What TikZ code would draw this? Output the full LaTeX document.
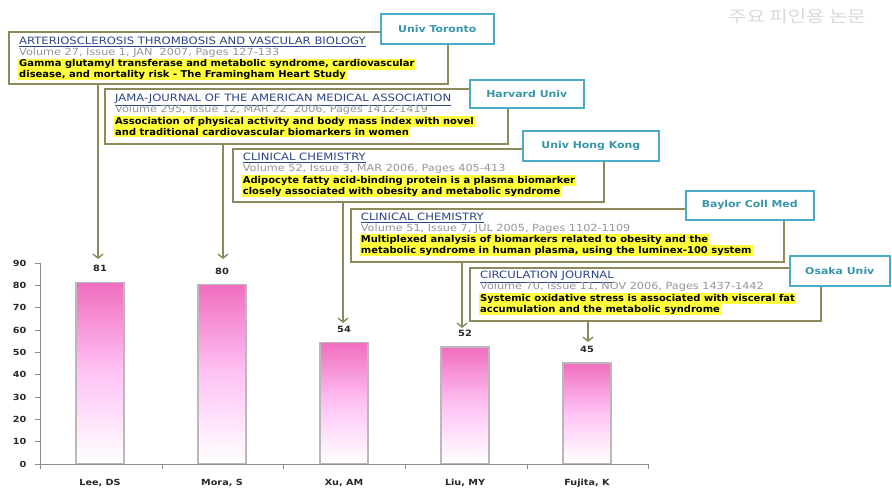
\documentclass[tikz,border=0pt]{standalone}
\usepackage{fontspec}
\setmainfont[FakeStretch=1.15]{DejaVu Sans}
\newfontfamily\hlfont[FakeStretch=1.06]{DejaVu Sans}
\newfontfamily\krfont[FakeStretch=1.25]{Noto Sans CJK KR}
\usetikzlibrary{arrows.meta,calc}
\definecolor{boxline}{RGB}{140,138,90}
\definecolor{labline}{RGB}{75,172,198}
\definecolor{labtext}{RGB}{55,150,170}
\definecolor{titleblue}{RGB}{45,70,135}
\definecolor{volgray}{RGB}{150,150,150}
\definecolor{hlyellow}{RGB}{255,255,60}
\definecolor{barTop}{RGB}{240,110,190}
\definecolor{barMid}{RGB}{255,195,245}
\definecolor{axisgray}{RGB}{140,140,140}
\definecolor{numtext}{RGB}{40,40,40}
\tikzset{
  artbox/.style={draw=boxline, line width=1.6pt, fill=white, anchor=north west, inner sep=0pt},
  labbox/.style={draw=labline, line width=1.6pt, fill=white, anchor=north west, inner sep=0pt,
    font=\bfseries\fontsize{9.5}{10}\selectfont, text=labtext},
  ttl/.style={anchor=base west, inner sep=0pt, text=titleblue, font=\fontsize{10.1}{11}\selectfont},
  vol/.style={anchor=base west, inner sep=0pt, text=volgray, font=\fontsize{9.8}{11}\selectfont},
  hl/.style={anchor=base west, inner xsep=1pt, inner ysep=0.9pt, fill=hlyellow, text=black,
    font=\hlfont\bfseries\fontsize{9.4}{10}\selectfont},
  arr/.style={draw=boxline, line width=1.6pt, -{Straight Barb[length=4pt,width=10pt,line width=1.4pt]}},
  bar/.style={anchor=south, minimum width=48pt, inner sep=0pt, draw=gray!55, line width=1.4pt,
    top color=barTop, bottom color=white, middle color=barMid},
  val/.style={inner sep=0pt, text=numtext, font=\bfseries\fontsize{8.6}{10}\selectfont},
  cat/.style={inner sep=0pt, text=numtext, font=\bfseries\fontsize{8.4}{10}\selectfont},
  ytl/.style={anchor=east, inner sep=0pt, text=numtext, font=\bfseries\fontsize{8.4}{10}\selectfont}
}
\begin{document}
\begin{tikzpicture}[x=1pt,y=-1pt]
\useasboundingbox (0,0) rectangle (892,489);
\fill[white] (0,0) rectangle (892,489);

% title (faint)
\node[inner sep=0pt, text=gray!30, font=\krfont\fontsize{16}{18}\selectfont] (ktitle) at (797,17) {주요 피인용 논문};

% ---- chart axes
\coordinate (o) at (40,464);
\coordinate (ytop) at (40,263);
\coordinate (xend) at (648,464);
\draw[axisgray, line width=0.8pt] (ytop) -- (o) -- (xend);
\foreach \k in {0,...,9} {
  \draw[axisgray, line width=0.8pt] (35,{464-\k*22.33}) -- (40,{464-\k*22.33});
  \node[ytl] (y\k) at (26.5,{464-\k*22.33}) {\the\numexpr\k*10\relax};
}
\foreach \xx in {40,162,283,405,527,648} {
  \draw[axisgray, line width=0.8pt] (\xx,464) -- (\xx,469);
}

% ---- bars
\node[bar, minimum height={81*2.233pt}] (bar1) at (100,464) {};
\node[bar, minimum height={80*2.233pt}] (bar2) at (222,464) {};
\node[bar, minimum height={54*2.233pt}] (bar3) at (344,464) {};
\node[bar, minimum height={52*2.233pt}] (bar4) at (465,464) {};
\node[bar, minimum height={45*2.233pt}] (bar5) at (587,464) {};

\node[val] (v1) at ($(bar1.north)+(0,-13)$) {81};
\node[val] (v2) at ($(bar2.north)+(0,-13)$) {80};
\node[val] (v3) at ($(bar3.north)+(0,-13)$) {54};
\node[val] (v4) at ($(bar4.north)+(0,-13)$) {52};
\node[val] (v5) at ($(bar5.north)+(0,-13)$) {45};

\node[cat] (c1) at (100,483) {Lee, DS};
\node[cat] (c2) at (222,483) {Mora, S};
\node[cat] (c3) at (344,483) {Xu, AM};
\node[cat] (c4) at (465,483) {Liu, MY};
\node[cat] (c5) at (587,483) {Fujita, K};

% ---- article boxes
\node[artbox, minimum width=439pt, minimum height=52pt] (b1) at (8,31.5) {};
\node[artbox, minimum width=403pt, minimum height=55pt] (b2) at (104,88.3) {};
\node[artbox, minimum width=371pt, minimum height=53pt] (b3) at (232,148) {};
\node[artbox, minimum width=433pt, minimum height=53pt] (b4) at (350,208) {};
\node[artbox, minimum width=351pt, minimum height=53pt] (b5) at (469,267) {};

% ---- arrows
\coordinate (t1) at (98,259);
\coordinate (t2) at (223,259);
\coordinate (t3) at (343,323);
\coordinate (t4) at (462,328);
\coordinate (t5) at (588,342);
\draw[arr] (b1.south -| t1) -- (t1);
\draw[arr] (b2.south -| t2) -- (t2);
\draw[arr] (b3.south -| t3) -- (t3);
\draw[arr] (b4.south -| t4) -- (t4);
\draw[arr] (b5.south -| t5) -- (t5);

% ---- box texts
\node[ttl] (a1t) at (19,44.3) {\underline{ARTERIOSCLEROSIS THROMBOSIS AND VASCULAR BIOLOGY}};
\node[vol] (a1v) at (19,55.5) {Volume 27, Issue 1, JAN\ \ 2007, Pages 127-133};
\node[hl] (a1h) at (18,66.7) {Gamma glutamyl transferase and metabolic syndrome, cardiovascular};
\node[hl] (a1i) at (18,77.5) {disease, and mortality risk - The Framingham Heart Study};

\node[ttl] (a2t) at (115,102) {\underline{JAMA-JOURNAL OF THE AMERICAN MEDICAL ASSOCIATION}};
\node[vol] (a2v) at (115,113) {Volume 295, Issue 12, MAR 22\ \ 2006, Pages 1412-1419};
\node[hl] (a2h) at (114,124.5) {Association of physical activity and body mass index with novel};
\node[hl] (a2i) at (114,135.5) {and traditional cardiovascular biomarkers in women};

\node[ttl] (a3t) at (242.7,161) {\underline{CLINICAL CHEMISTRY}};
\node[vol] (a3v) at (242.7,172) {Volume 52, Issue 3, MAR 2006, Pages 405-413};
\node[hl] (a3h) at (241.7,183.3) {Adipocyte fatty acid-binding protein is a plasma biomarker};
\node[hl] (a3i) at (241.7,194.5) {closely associated with obesity and metabolic syndrome};

\node[ttl] (a4t) at (360.7,220.5) {\underline{CLINICAL CHEMISTRY}};
\node[vol] (a4v) at (360.7,231.3) {Volume 51, Issue 7, JUL 2005, Pages 1102-1109};
\node[hl] (a4h) at (359.7,242.5) {Multiplexed analysis of biomarkers related to obesity and the};
\node[hl] (a4i) at (359.7,253.5) {metabolic syndrome in human plasma, using the luminex-100 system};

\node[ttl] (a5t) at (480,278.5) {\underline{CIRCULATION JOURNAL}};
\node[vol] (a5v) at (480,289.5) {Volume 70, Issue 11, NOV 2006, Pages 1437-1442};
\node[hl] (a5h) at (479,301.5) {Systemic oxidative stress is associated with visceral fat};
\node[hl] (a5i) at (479,312.5) {accumulation and the metabolic syndrome};

% ---- affiliation labels
\node[labbox, minimum width=113pt, minimum height=30pt] (l1) at (380,13) {Univ Toronto};
\node[labbox, minimum width=114pt, minimum height=28pt] (l2) at (469,79) {Harvard Univ};
\node[labbox, minimum width=136pt, minimum height=30pt] (l3) at (522,130) {Univ Hong Kong};
\node[labbox, minimum width=128pt, minimum height=29pt] (l4) at (685,190) {Baylor Coll Med};
\node[labbox, minimum width=100pt, minimum height=30pt] (l5) at (789,255) {Osaka Univ};
\end{tikzpicture}
\end{document}
